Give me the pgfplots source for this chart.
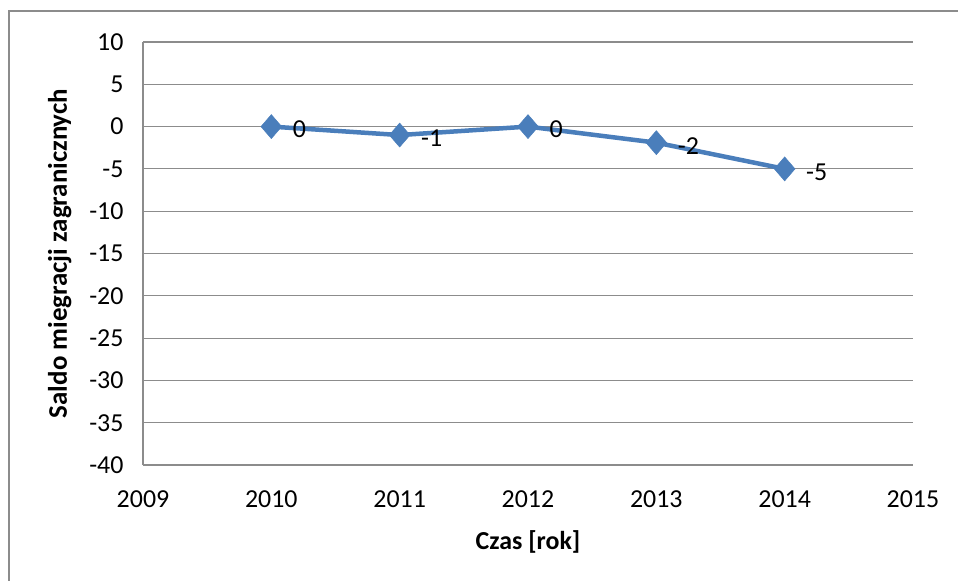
\documentclass[border=0pt]{standalone}
\usepackage{fontspec}
\setmainfont{Carlito}
\usepackage{pgfplots}
\pgfplotsset{compat=1.18}
\definecolor{linec}{HTML}{4A7EBB}
\definecolor{gridc}{HTML}{8C8C8C}

\begin{document}
\begin{tikzpicture}
\useasboundingbox (-143bp,-116bp) rectangle (815bp,465bp);
\draw[gridc, line width=1.5bp] (-134bp,-200bp) rectangle (860bp,454bp);
\begin{axis}[
  scale only axis,
  width=770bp, height=423bp,
  xmin=2009, xmax=2015,
  ymin=-40, ymax=10,
  xtick={2009,2010,...,2015},
  ytick={-40,-35,...,10},
  axis lines*=left,
  axis line style={gridc, line width=1.2bp, -},
  ymajorgrids,
  grid style={gridc, line width=1.2bp},
  major tick length=0pt,
  tick label style={font=\fontsize{26}{30}\selectfont},
  /pgf/number format/assume math mode=true,
  /pgf/number format/1000 sep={},
  x tick label style={yshift=-22bp},
  y tick label style={xshift=-16bp},
  xlabel={Czas [rok]},
  ylabel={Saldo miegracji zagranicznych},
  every axis x label/.style={at={(axis description cs:0.5,0)}, anchor=center,
    yshift=-77bp, font=\bfseries\fontsize{26}{30}\selectfont},
  every axis y label/.style={at={(axis description cs:-0.108,0.5)}, anchor=center,
    rotate=90, font=\bfseries\fontsize{27}{30}\selectfont},
  clip=false,
]
\addplot[color=linec, line width=4.5bp, mark=diamond*,
  mark size=12bp, mark options={xscale=1.15, line width=0.5bp},
  point meta=explicit symbolic,
  nodes near coords,
  every node near coord/.style={anchor=west, xshift=18bp, yshift=-3bp,
    text=black, font=\fontsize{26}{30}\selectfont}]
  coordinates {
  (2010,0) [0]
  (2011,-1) [-1]
  (2012,0) [0]
  (2013,-1.9) [-2]
  (2014,-5) [-5]
};
\end{axis}
\end{tikzpicture}
\end{document}
